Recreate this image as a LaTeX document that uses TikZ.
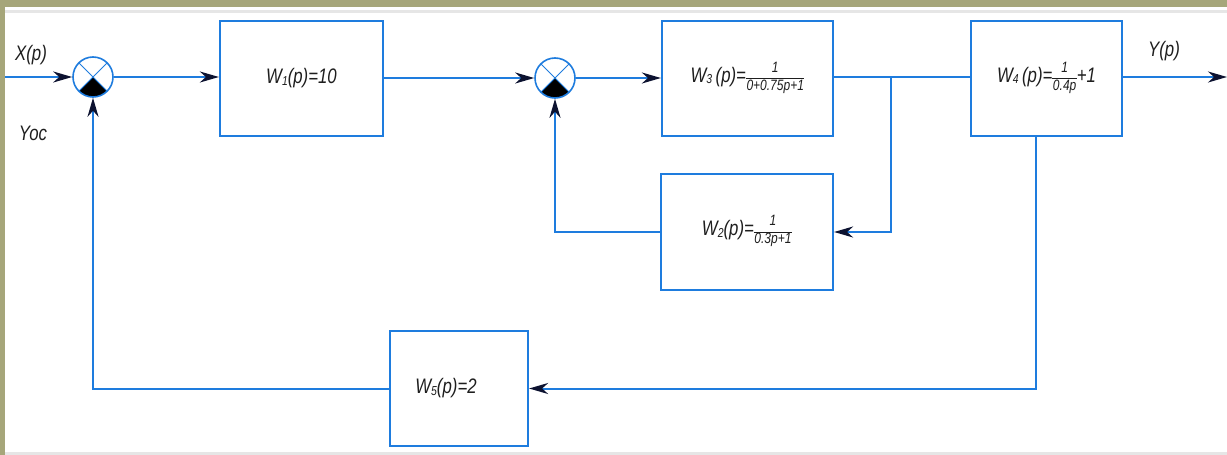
\documentclass[tikz,border=0pt]{standalone}
\usepackage{fontspec}
\usetikzlibrary{arrows.meta,calc}
\newfontfamily\gost[FakeStretch=0.8]{Liberation Sans}
\definecolor{lineblue}{RGB}{30,124,222}
\definecolor{tipnavy}{RGB}{12,18,48}
\definecolor{olive}{RGB}{166,166,122}
\definecolor{rulegray}{RGB}{230,230,230}
\definecolor{ink}{RGB}{30,30,30}
% small index digit after W
\newcommand{\Wi}[1]{W{\fontsize{13}{13}\selectfont\raisebox{-1.5pt}{#1}}}
% small stacked fraction
\newcommand{\sfr}[2]{{\fontsize{15}{15}\selectfont\setlength{\arrayrulewidth}{0.9pt}\setlength{\tabcolsep}{0.5pt}\renewcommand{\arraystretch}{1.05}\begin{tabular}[c]{c}\raisebox{1pt}{#1}\\\hline\rule{0pt}{11pt}#2\end{tabular}}}
\tikzset{
  wire/.style={draw=lineblue, line width=2pt},
  sig/.style={wire, -{Stealth[length=19pt,width=11pt,inset=6pt,color=tipnavy]}},
  block/.style={draw=lineblue, line width=2.2pt, fill=white, inner sep=0pt,
    font=\gost\itshape\fontsize{21}{21}\selectfont, text=ink},
  tag/.style={font=\gost\itshape\fontsize{21}{21}\selectfont, text=ink, inner sep=0pt},
  summer/.style={circle, draw=lineblue, line width=1.6pt, fill=white, inner sep=0pt,
    minimum size=40pt,
    path picture={
      \coordinate (pc) at (path picture bounding box.center);
      \fill[black] (pc) -- ($(pc)+(-135:30pt)$) -- ($(pc)+(-90:40pt)$) -- ($(pc)+(-45:30pt)$) -- cycle;
      \draw[lineblue, line width=0.9pt] ($(pc)+(45:30pt)$) -- ($(pc)+(-135:30pt)$)
        ($(pc)+(135:30pt)$) -- ($(pc)+(-45:30pt)$);
    }},
}
\begin{document}
\begin{tikzpicture}[x=1pt,y=-1pt]
  \useasboundingbox (0,0) rectangle (1227,455);
  % sheet background and frame strips
  \fill[white] (0,0) rectangle (1227,455);
  \fill[olive] (0,0) rectangle (1227,7);
  \fill[olive] (0,0) rectangle (5,455);
  \fill[rulegray] (5,10) rectangle (1227,13);
  \fill[rulegray] (5,452) rectangle (1227,455);

  % summing junctions
  \node[summer] (s1) at (93,77) {};
  \node[summer] (s2) at (555,78) {};

  % transfer blocks
  \node[block, minimum width=163pt, minimum height=115pt] (w1) at (301.5,78.5) {\Wi{1}(p)=10};
  \node[block, minimum width=171pt, minimum height=115pt] (w3) at (747.5,78.5)
    {\Wi{3}\,(p)=\sfr{1}{0+0.75p+1}};
  \node[block, minimum width=151pt, minimum height=115pt] (w4) at (1046.5,78.5)
    {\Wi{4}\,(p)=\sfr{1}{0.4p}+1};
  \node[block, minimum width=172pt, minimum height=116pt] (w2) at (747,232)
    {\Wi{2}(p)=\sfr{1}{0.3p+1}};
  \node[block, minimum width=138pt, minimum height=115pt] (w5) at (459,388.5)
    {\hspace*{-26pt}\Wi{5}(p)=2};

  % signal labels
  \node[tag] (xl) at (31,55) {X(p)};
  \node[tag] (yl) at (1164,51) {Y(p)};
  \node[tag] (yoc) at (33,133) {Yoc};

  % free ends and branch points
  \coordinate (in) at (5,77);
  \coordinate (out) at (1227,77);
  \coordinate (br) at (891,77);
  \coordinate (w4b) at (1036,136);

  % forward path
  \draw[sig] (in) -- (s1.west);
  \draw[sig] (s1.east) -- (s1.east -| w1.west);
  \draw[sig] (w1.east |- s2) -- (s2.west);
  \draw[sig] (s2.east) -- (s2.east -| w3.west);
  \draw[wire] (w3.east |- br) -- (br) -- (br -| w4.west);
  \draw[sig] (w4.east |- out) -- (out);

  % inner feedback loop through W2
  \draw[sig] (br) |- (w2.east);
  \draw[sig] (w2.west) -| (s2.south);

  % outer feedback loop through W5
  \draw[sig] (w4b) |- (w5.east);
  \draw[sig] (w5.west) -| (s1.south);
\end{tikzpicture}
\end{document}
